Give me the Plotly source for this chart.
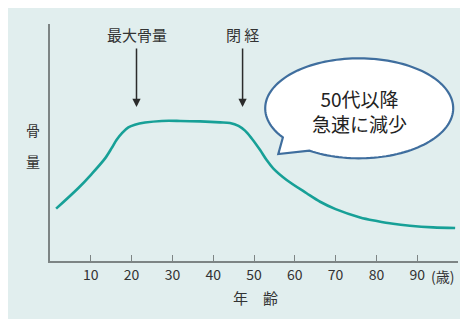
import numpy as np
import plotly.graph_objects as go

# Data
ages = [1.5, 6.9, 10.2, 13.5, 15.1, 16.3, 17.7, 19.2, 20.8, 23.3, 27.4, 31.9, 36.8, 41.7, 44.1,
        46.2, 47.8, 49.4, 51.5, 53.1, 54.7, 58.0, 62.9, 66.2, 70.0, 76.0, 80.1, 84.1, 88.2, 93.9, 99.3]
bone_mass = [22.1, 30.7, 36.7, 43.3, 47.6, 51.1, 54.1, 56.4, 57.5, 58.4, 59.1, 59.1, 58.9, 58.5, 58.2,
             57.0, 55.0, 51.8, 46.8, 42.6, 39.1, 34.2, 28.6, 25.0, 21.9, 18.4, 16.9, 15.7, 14.9, 14.2, 13.9]
tick_vals = [10, 20, 30, 40, 50, 60, 70, 80, 90]
tick_text = ["10", "20", "30", "40", "50", "60", "70", "80", "90"]
peak_age = 21.2
menopause_age = 47.2

OFF = 8  # page body margin
W, H = 468 - OFF, 319 - OFF
ML, MT = 50 - OFF, 24 - OFF
MR = W - (458 - OFF)
MB = H - (261 - OFF)
PW, PH = W - ML - MR, H - MT - MB

def px2paper(px, py):
    """reference-picture pixel -> paper coords"""
    fx, fy = px - OFF, py - OFF
    return (fx - ML) / PW, (H - MB - fy) / PH

FONT = "Noto Sans CJK JP"
TXT = "#333333"
AX = "#7d8484"

fig = go.Figure()
fig.add_trace(go.Scatter(
    x=ages, y=bone_mass, mode="lines",
    line=dict(color="#17a097", width=2.6, shape="spline", smoothing=0.9),
    hoverinfo="skip", showlegend=False,
))

shapes = []
x0, y0 = px2paper(8, 319)
x1, y1 = px2paper(470, 7)
shapes.append(dict(type="rect", xref="paper", yref="paper", x0=x0, y0=y0, x1=x1, y1=y1,
                   fillcolor="#e1eeee", line=dict(width=0), layer="below"))

# speech bubble (ellipse + tail)
cx, cy, a, b = 359.2, 108.3, 94, 50
ts = np.linspace(np.deg2rad(144.3), np.deg2rad(122 + 360), 140)
pts = [(cx + a * np.cos(t), cy + b * np.sin(t)) for t in ts]
pts.append((278.3, 154))
path = ""
for i, (px, py) in enumerate(pts):
    xp, yp = px2paper(px, py)
    path += ("M" if i == 0 else "L") + f"{xp:.5f},{yp:.5f} "
path += "Z"
shapes.append(dict(type="path", xref="paper", yref="paper", path=path,
                   fillcolor="white", line=dict(color="#3f6e9e", width=2.2), layer="above"))

def label(text, px, py, size, color=TXT):
    xp, yp = px2paper(px, py)
    return dict(x=xp, y=yp, xref="paper", yref="paper", text=text, showarrow=False,
                xanchor="center", yanchor="middle", align="center",
                font=dict(family=FONT, size=size, color=color))

annotations = []
head_y = px2paper(0, 107)[1]
for xa in (peak_age, menopause_age):
    annotations.append(dict(x=xa, y=head_y, xref="x", yref="paper",
                            text="", showarrow=True, ax=0, ay=-60,
                            arrowhead=2, arrowsize=1.1, arrowwidth=1.5, arrowcolor="#2b2b2b"))
ty = px2paper(0, 35)[1]
for xa, txt in ((peak_age, "最大骨量"), (menopause_age, "閉 経")):
    annotations.append(dict(x=xa, y=ty, xref="x", yref="paper", text=txt, showarrow=False,
                            xanchor="center", yanchor="middle",
                            font=dict(family=FONT, size=15, color=TXT)))
annotations.append(label("50代以降<br>急速に減少", 359, 111, 19, "#222222"))
annotations.append(label("骨", 33, 130, 14))
annotations.append(label("量", 33, 161, 14))
annotations.append(label("年　齢", 255, 297, 15))
annotations.append(label("(歳)", 442, 276, 14))

fig.update_layout(
    width=W, height=H,
    margin=dict(l=ML, r=MR, t=MT, b=MB),
    paper_bgcolor="white", plot_bgcolor="rgba(0,0,0,0)",
    shapes=shapes, annotations=annotations,
    xaxis=dict(range=[0, 100], showgrid=False, zeroline=False, showline=True,
               linecolor=AX, linewidth=1.5, ticks="inside", ticklen=6, tickcolor=AX,
               tickwidth=1.2, tickvals=tick_vals, ticktext=tick_text,
               tickfont=dict(family=FONT, size=14, color=TXT), fixedrange=True),
    yaxis=dict(range=[0, 100], showgrid=False, zeroline=False, showline=True,
               linecolor=AX, linewidth=1.5, showticklabels=False, ticks="", fixedrange=True),
)

fig.write_html("out.html")
